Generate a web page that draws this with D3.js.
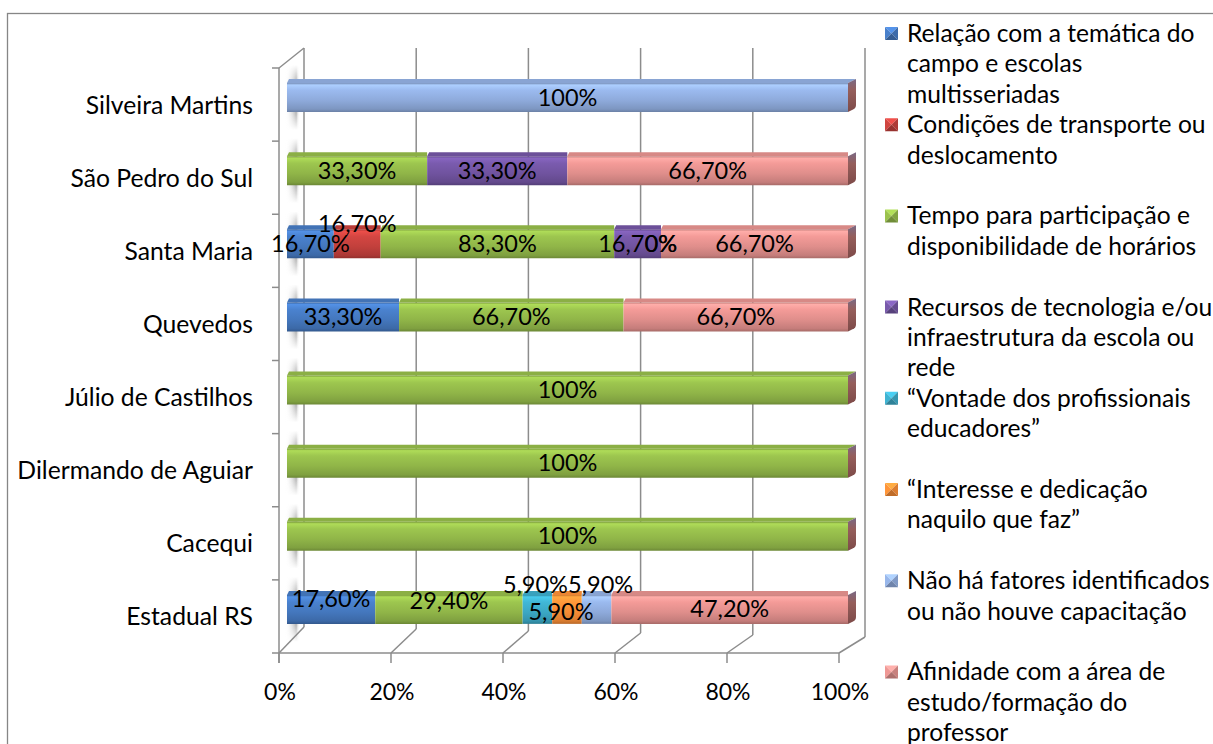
<!DOCTYPE html>
<html>
<head>
<meta charset="utf-8">
<script src="https://cdn.jsdelivr.net/npm/d3@7"></script>
<style>
  body { margin: 0; background: #fff; }
  svg { display: block; }
  text { font-family: Lato, "Open Sans", sans-serif; fill: #000; }
</style>
</head>
<body>
<svg id="chart" width="1213" height="744"></svg>
<script>
// Categories (top to bottom)
const categories = ["Silveira Martins", "São Pedro do Sul", "Santa Maria", "Quevedos",
  "Júlio de Castilhos", "Dilermando de Aguiar", "Cacequi", "Estadual RS"];

// Series values (%) per category; null = no answer, 0 = answered with zero
const relacao    = [null, null, 16.7, 33.3, null, null, null, 17.6];
const transporte = [null, null, 16.7, null, null, null, null, null];
const tempo      = [null, 33.3, 83.3, 66.7, 100, 100, 100, 29.4];
const recursos   = [null, 33.3, 16.7, null, null, null, null, null];
const vontade    = [null, null, 0, null, null, null, null, 5.9];
const interesse  = [null, null, null, null, null, null, null, 5.9];
const naoHa      = [100, null, null, null, null, null, null, 5.9];
const afinidade  = [null, 66.7, 66.7, 66.7, null, null, null, 47.2];

const seriesKeys = ["relacao", "transporte", "tempo", "recursos", "vontade", "interesse", "naoHa", "afinidade"];
const seriesValues = [relacao, transporte, tempo, recursos, vontade, interesse, naoHa, afinidade];

// Legend text, one entry per line
const legendLines = [
  ["Relação com a temática do", "campo e escolas", "multisseriadas"],
  ["Condições de transporte ou", "deslocamento"],
  ["Tempo para participação e", "disponibilidade de horários"],
  ["Recursos de tecnologia e/ou", "infraestrutura da escola ou", "rede"],
  ["“Vontade dos profissionais", "educadores”"],
  ["“Interesse e dedicação", "naquilo que faz”"],
  ["Não há fatores identificados", "ou não houve capacitação"],
  ["Afinidade com a área de", "estudo/formação do", "professor"]
];

const tickValues = [0, 0.2, 0.4, 0.6, 0.8, 1];

// Styling
const colors = ["#4477bd", "#c2403c", "#90b548", "#70539f", "#3ba7c4", "#f58b35", "#8eaadb", "#df8e8b"];
const gridColor = "#8c8c8c";

// Label nudges for crowded segments
const labelNudge = {
  "transporte|Santa Maria": { dx: 0, dy: -20 },
  "relacao|Estadual RS": { dx: 0, dy: -10 },
  "tempo|Estadual RS": { dx: 0, dy: -8 },
  "vontade|Estadual RS": { dx: -2, dy: -24 },
  "naoHa|Estadual RS": { dx: 4, dy: -24 },
  "interesse|Estadual RS": { dx: -6, dy: 3 }
};

const svg = d3.select("#chart");
const defs = svg.append("defs");

// Build rows for the stack
const rows = categories.map((c, i) => {
  const r = { category: c };
  seriesKeys.forEach((k, j) => { r[k] = seriesValues[j][i]; });
  return r;
});

const stacked = d3.stack()
  .keys(seriesKeys)
  .value((d, k) => d[k] ?? 0)
  .offset(d3.stackOffsetExpand)(rows);

// Scales: front plane, back wall, and the bar plane in between
const xFront = d3.scaleLinear().domain([0, 1]).range([279, 839]);
const xBack  = d3.scaleLinear().domain([0, 1]).range([304, 865]);
const xBar   = d3.scaleLinear().domain([0, 1]).range([287, 848]);
const yBackBottom = d3.scaleLinear().domain([0, 1]).range([627, 637]);
const y = d3.scaleBand().domain(categories).range([68, 653]).paddingInner(0).paddingOuter(0);
const backTop = 48;
const frontBottom = 653;

// Outer chart border
svg.append("rect")
  .attr("x", 7.5).attr("y", 13.5)
  .attr("width", 1240).attr("height", 760)
  .attr("fill", "none").attr("stroke", "#868686").attr("stroke-width", 1.3);

// Soft shading on the left wall beside each bar
const shade = defs.append("linearGradient").attr("id", "wallShade").attr("x1", 0).attr("x2", 1);
shade.append("stop").attr("offset", 0).attr("stop-color", "#fff").attr("stop-opacity", 0);
shade.append("stop").attr("offset", 0.75).attr("stop-color", "#9a9a9a").attr("stop-opacity", 0.85);
shade.append("stop").attr("offset", 1).attr("stop-color", "#fff").attr("stop-opacity", 0);
const fadeV = defs.append("linearGradient").attr("id", "fadeV").attr("x1", 0).attr("x2", 0).attr("y1", 0).attr("y2", 1);
fadeV.append("stop").attr("offset", 0).attr("stop-color", "#fff").attr("stop-opacity", 0);
fadeV.append("stop").attr("offset", 0.3).attr("stop-color", "#fff").attr("stop-opacity", 1);
fadeV.append("stop").attr("offset", 0.7).attr("stop-color", "#fff").attr("stop-opacity", 1);
fadeV.append("stop").attr("offset", 1).attr("stop-color", "#fff").attr("stop-opacity", 0);
const mask = defs.append("mask").attr("id", "fadeMask").attr("maskContentUnits", "objectBoundingBox");
mask.append("rect").attr("width", 1).attr("height", 1).attr("fill", "url(#fadeV)");

const faceTop = c => y(c) + 15;
const faceBot = c => y(c) + 44;

svg.append("g").selectAll("rect").data(categories).join("rect")
  .attr("x", 285).attr("width", 15)
  .attr("y", c => faceTop(c) - 18)
  .attr("height", c => faceBot(c) - faceTop(c) + 36)
  .attr("fill", "url(#wallShade)")
  .attr("mask", "url(#fadeMask)");

// Walls, gridlines and axes
const grid = svg.append("g").attr("stroke", gridColor).attr("stroke-width", 1.5).attr("fill", "none");
// back wall gridlines
grid.selectAll("line.gv").data(tickValues).join("line")
  .attr("x1", t => xBack(t)).attr("x2", t => xBack(t))
  .attr("y1", backTop).attr("y2", t => yBackBottom(t));
// floor diagonals from front ticks to back wall
grid.selectAll("line.gd").data(tickValues).join("line")
  .attr("x1", t => xFront(t)).attr("y1", frontBottom)
  .attr("x2", t => xBack(t)).attr("y2", t => yBackBottom(t));
// front bottom edge
grid.append("line").attr("x1", xFront(0)).attr("x2", xFront(1)).attr("y1", frontBottom).attr("y2", frontBottom);
// bottom ticks
grid.selectAll("line.tk").data(tickValues).join("line")
  .attr("x1", t => xFront(t)).attr("x2", t => xFront(t))
  .attr("y1", frontBottom).attr("y2", frontBottom + 10);
// left wall: front edge, top edge
grid.append("line").attr("x1", xFront(0)).attr("x2", xFront(0)).attr("y1", y.range()[0]).attr("y2", frontBottom + 10);
grid.append("line").attr("x1", xFront(0)).attr("y1", y.range()[0]).attr("x2", xBack(0)).attr("y2", backTop);
// category ticks
const boundaries = categories.map(c => y(c)).concat([y.range()[1]]);
grid.selectAll("line.ct").data(boundaries).join("line")
  .attr("x1", xFront(0) - 7).attr("x2", xFront(0))
  .attr("y1", d => d).attr("y2", d => d);

// Bottom tick labels
svg.append("g").selectAll("text").data(tickValues).join("text")
  .attr("x", t => xFront(t) + 1).attr("y", 700)
  .attr("text-anchor", "middle").attr("font-size", 23)
  .text(d3.format(".0%"));

// Category labels
svg.append("g").selectAll("text").data(categories).join("text")
  .attr("x", 253).attr("y", c => y(c) + y.bandwidth() / 2 + 9)
  .attr("text-anchor", "end").attr("font-size", 24.7)
  .text(c => c);

// Bar gradients per series
colors.forEach((col, i) => {
  const c = d3.color(col);
  const g = defs.append("linearGradient").attr("id", "face" + i)
    .attr("x1", 0).attr("x2", 0).attr("y1", 0).attr("y2", 1);
  [[0, c.darker(0.5)], [0.07, c.brighter(0.55)], [0.25, c.brighter(0.25)], [0.6, c], [0.9, c.darker(0.35)], [1, c.darker(0.8)]]
    .forEach(([o, cc]) => g.append("stop").attr("offset", o).attr("stop-color", cc));
});
const endG = defs.append("linearGradient").attr("id", "endFace").attr("x1", 0).attr("x2", 0).attr("y1", 0).attr("y2", 1);
endG.append("stop").attr("offset", 0).attr("stop-color", "#7a6a86");
endG.append("stop").attr("offset", 0.35).attr("stop-color", "#955e5b");
endG.append("stop").attr("offset", 1).attr("stop-color", "#7d4a48");

const depthDx = 8, depthDy = 4;

// Bars
const bars = svg.append("g");
stacked.forEach((layer, si) => {
  bars.append("g").selectAll("path").data(layer).join("path")
    .attr("d", d => {
      const c = d.data.category;
      const x0 = xBar(d[0]), x1 = xBar(d[1]);
      if (x1 - x0 <= 0) return null;
      return `M${x0},${faceTop(c)}H${x1}V${faceBot(c)}H${x0}Z`;
    })
    .attr("fill", `url(#face${si})`);
  // top face
  bars.append("g").selectAll("path").data(layer).join("path")
    .attr("d", d => {
      const c = d.data.category;
      const x0 = xBar(d[0]), x1 = xBar(d[1]);
      if (x1 - x0 <= 0) return null;
      const t = faceTop(c);
      return `M${x0},${t}L${x0 + 2},${t - depthDy}H${x1 + (d[1] >= 1 ? depthDx : 0)}L${x1},${t}Z`;
    })
    .attr("fill", d3.color(colors[si]).darker(0.1));
});
// end faces
bars.append("g").selectAll("path").data(categories).join("path")
  .attr("d", c => {
    const x1 = xBar(1), t = faceTop(c), b = faceBot(c);
    return `M${x1},${t}L${x1 + depthDx},${t - depthDy}L${x1 + depthDx},${b - depthDy - 3}Q${x1 + depthDx},${b - depthDy} ${x1 + depthDx - 3},${b - depthDy + 1.5}L${x1},${b}Z`;
  })
  .attr("fill", "url(#endFace)");

// Data labels
const fmt = v => (Number.isInteger(v) ? v : v.toFixed(2).replace(".", ",")) + "%";
const labels = svg.append("g").attr("font-size", 23.5).attr("text-anchor", "middle");
stacked.forEach((layer, si) => {
  const key = seriesKeys[si];
  layer.forEach((d, ci) => {
    const v = seriesValues[si][ci];
    if (v === null) return;
    const c = d.data.category;
    const n = labelNudge[key + "|" + c] || { dx: 0, dy: 0 };
    labels.append("text")
      .attr("x", xBar((d[0] + d[1]) / 2) + n.dx)
      .attr("y", (faceTop(c) + faceBot(c)) / 2 + 8 + n.dy)
      .text(fmt(v));
  });
});

// Legend
const lineH = 30.4;
const legend = svg.append("g").attr("font-size", 24.6);
let k = 0;
legendLines.forEach((lines, i) => {
  const base = 42 + k * lineH;
  const c = d3.color(colors[i]);
  const mx = 885, my = base - 15, s = 13;
  const m = legend.append("g");
  m.append("path").attr("d", `M${mx},${my}h${s}l${-s / 2},${s / 2}Z`).attr("fill", c.brighter(0.6));
  m.append("path").attr("d", `M${mx},${my}v${s}l${s / 2},${-s / 2}Z`).attr("fill", c.brighter(0.2));
  m.append("path").attr("d", `M${mx + s},${my}v${s}l${-s / 2},${-s / 2}Z`).attr("fill", c.darker(0.3));
  m.append("path").attr("d", `M${mx},${my + s}h${s}l${-s / 2},${-s / 2}Z`).attr("fill", c.darker(0.7));
  lines.forEach((ln, j) => {
    legend.append("text").attr("x", 907).attr("y", base + j * lineH).text(ln);
  });
  k += 3;
});
</script>
</body>
</html>
